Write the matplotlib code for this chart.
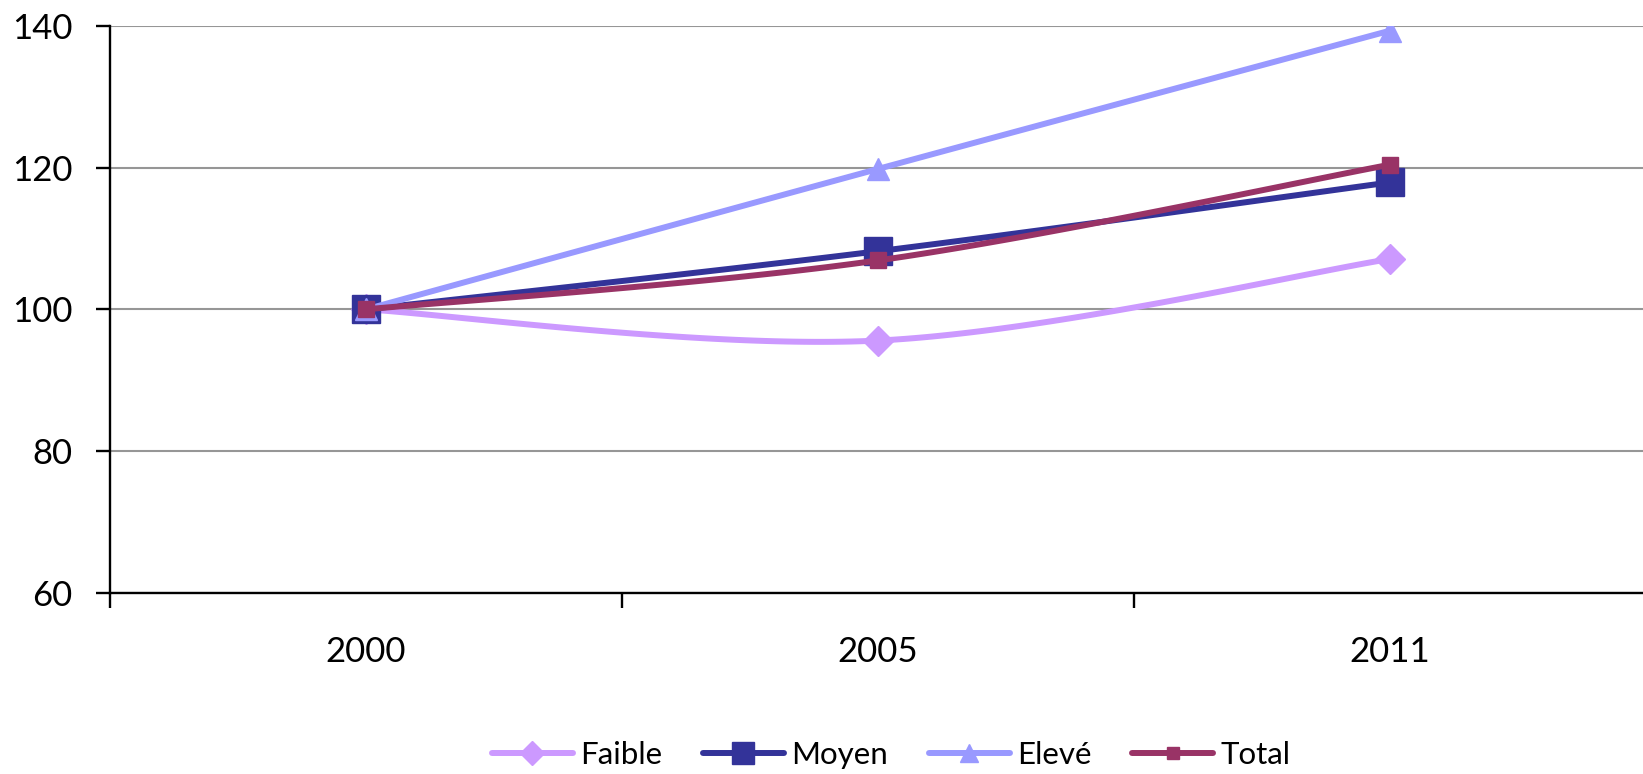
import matplotlib
matplotlib.use("Agg")
import matplotlib.pyplot as plt
import numpy as np
from matplotlib.lines import Line2D

years = ["2000", "2005", "2011"]
faible = [100, 95.6, 107.1]
moyen = [100, 108.2, 117.9]
eleve = [100, 119.8, 139.3]
total = [100, 106.9, 120.4]
series_names = ["Faible", "Moyen", "Elevé", "Total"]
y_ticks = [60, 80, 100, 120, 140]

plt.rcParams['font.family'] = ['Lato', 'DejaVu Sans']

W, H = 1643, 774
fig = plt.figure(figsize=(W / 100, H / 100), dpi=100)
ax_left, ax_right, ax_top, ax_bot = 110, 1646, 25.7, 593
ax = fig.add_axes([ax_left / W, (H - ax_bot) / H, (ax_right - ax_left) / W, (ax_bot - ax_top) / H])


def smooth(xs, ys, n=60):
    P = np.column_stack([xs, ys]).astype(float)
    m = len(P)
    out = []
    for i in range(m - 1):
        p0 = P[max(i - 1, 0)]
        p1 = P[i]
        p2 = P[i + 1]
        p3 = P[min(i + 2, m - 1)]
        c1 = p1 + (p2 - p0) / 6
        c2 = p2 - (p3 - p1) / 6
        t = np.linspace(0, 1, n)[:, None]
        seg = (1 - t) ** 3 * p1 + 3 * (1 - t) ** 2 * t * c1 + 3 * (1 - t) * t ** 2 * c2 + t ** 3 * p2
        out.append(seg if i == 0 else seg[1:])
    pts = np.vstack(out)
    return pts[:, 0], pts[:, 1]


x = np.arange(len(years))
styles = [
    (faible, "#CC99FF", "D", 14.8),
    (moyen, "#333399", "s", 20.5),
    (eleve, "#9999FF", "^", 16.5),
    (total, "#993366", "s", 11),
]
lw = 4.3
handles = []
for k, (vals, col, mk, ms) in enumerate(styles):
    sx, sy = smooth(x, vals)
    ax.plot(sx, sy, color=col, lw=lw, solid_capstyle='round', zorder=3 + 2 * k)
    ax.plot(x, vals, linestyle='none', marker=mk, ms=ms, color=col, mec=col, zorder=4 + 2 * k)
    handles.append(Line2D([], [], color=col, lw=lw, marker=mk, ms=ms, mec=col, solid_capstyle='round'))

ax.set_xlim(-0.5, len(years) - 0.5)
ax.set_ylim(60, 140)
ax.set_yticks(y_ticks)
ax.set_xticks(x)
ax.set_xticklabels(years)
ax.set_xticks(np.arange(-0.5, len(years)), minor=True)

ax.spines['top'].set_visible(False)
ax.spines['right'].set_visible(False)
for s in ['left', 'bottom']:
    ax.spines[s].set_linewidth(1.7)
    ax.spines[s].set_color('black')

ax.yaxis.grid(True, color='#969696', lw=1.5)
ax.set_axisbelow(True)

ax.tick_params(axis='y', which='major', direction='out', length=10, width=1.7, pad=17, labelsize=25)
ax.tick_params(axis='x', which='major', length=0, pad=31, labelsize=25)
ax.tick_params(axis='x', which='minor', direction='out', length=10.8, width=1.7)

fig.legend(handles, series_names, loc='center', bbox_to_anchor=(891 / W, (H - 755) / H),
           ncol=4, frameon=False, fontsize=22.5, handlelength=2.6, handletextpad=0.23,
           columnspacing=1.3, markerscale=0.8, borderpad=0)

fig.savefig("out.png", dpi=100)
